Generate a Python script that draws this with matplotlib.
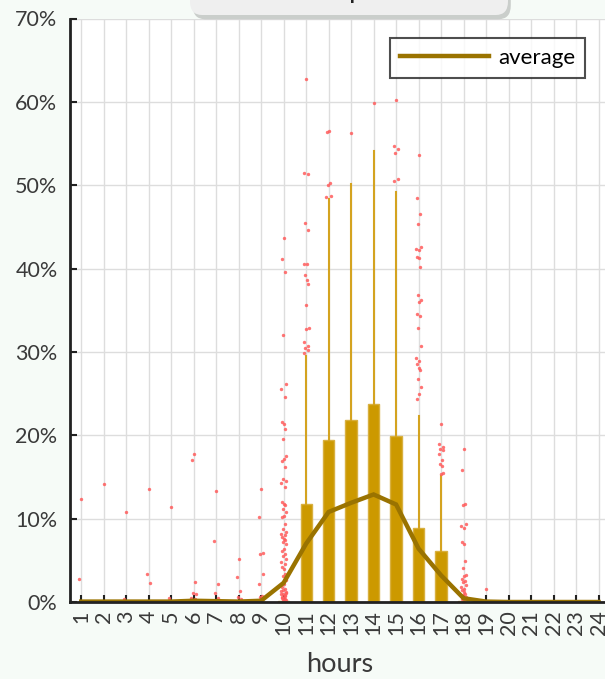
import matplotlib
matplotlib.use("Agg")
import matplotlib.pyplot as plt
import matplotlib.patheffects as pe
from matplotlib.patches import FancyBboxPatch

# hourly share of daily output (%)
HOURS = list(range(1, 25))
AVERAGE = [0.05, 0.05, 0.05, 0.05, 0.05, 0.15, 0.1, 0.05, 0.15, 2.3, 7.0, 10.8,
           11.9, 12.9, 11.7, 6.4, 3.2, 0.45, 0.05, 0, 0, 0, 0, 0]
Q1 = [0] * 24
MEDIAN = [0] * 24
Q3 = [0] * 9 + [0.1, 11.7, 19.4, 21.8, 23.8, 19.9, 8.9, 6.1, 0.1] + [0] * 6
WHISKER_HI = [0] * 9 + [0.25, 29.5, 48.3, 50.1, 54.1, 49.2, 22.3, 15.1, 0.2] + [0] * 6

OUTLIERS = {
    1: [12.3, 2.75],
    2: [14.1],
    3: [10.8, 0.4],
    4: [13.6, 3.35, 2.3],
    5: [11.4, 0.5],
    6: [17.8, 17.0, 2.4, 1.1, 1.0, 0.5, 0.4],
    7: [13.3, 7.3, 2.2, 1.1, 0.5],
    8: [5.1, 3.0, 1.35, 0.6, 0.4],
    9: [13.6, 10.2, 5.9, 5.7, 3.4, 2.1, 0.75, 0.6],
    10: [43.7, 41.1, 39.6, 32.0, 26.2, 25.5, 24.6, 21.6, 21.3, 20.8, 19.6, 17.5,
         17.2, 16.9, 16.2, 14.7, 14.5, 14.3, 13.8, 12.0, 11.8, 11.6, 11.2, 10.8,
         10.3, 10.2, 9.4, 8.8, 8.4, 8.2, 8.0, 7.8, 7.6, 7.4, 7.2, 6.9, 6.3, 6.1,
         5.8, 5.5, 5.2, 4.8, 4.6, 4.2, 4.0, 3.4, 3.1, 2.6, 2.2, 1.8, 1.6, 1.4,
         1.2, 1.0, 0.85, 0.65, 0.45, 0.3, 0.25, 0.2, 0.15, 0.5, 0.7, 0.9, 1.1, 1.3],
    11: [62.8, 51.5, 51.4, 45.5, 44.6, 40.6, 40.5, 39.2, 38.6, 38.2, 35.6, 32.9,
         32.8, 31.2, 30.7, 30.5, 30.2, 29.9],
    12: [56.5, 56.4, 50.3, 50.0, 48.7, 48.6],
    13: [56.3],
    14: [59.9],
    15: [60.2, 54.7, 54.4, 53.9, 50.8, 50.5],
    16: [53.6, 48.5, 46.5, 45.3, 42.6, 42.4, 42.2, 41.4, 41.3, 40.2, 36.8, 36.2,
         36.0, 34.5, 34.3, 32.9, 30.7, 29.3, 28.9, 28.6, 28.1, 27.8, 26.7, 25.8,
         25.0, 24.4],
    17: [21.3, 19.0, 18.6, 18.4, 18.2, 17.7, 17.0, 16.5, 16.3, 15.5, 15.3],
    18: [18.4, 15.8, 11.8, 11.6, 9.3, 9.1, 8.9, 7.15, 6.9, 4.95, 4.1, 3.2, 3.1,
         2.7, 2.55, 2.4, 2.0, 1.8, 1.6, 1.4, 1.2, 1.0, 0.8, 0.6, 0.45, 0.35, 0.3],
    19: [1.55],
}

BOX_COLOR = "#cc9900"
BOX_EDGE = "#d8b040"
AVG_COLOR = "#9a7300"
DOT_COLOR = "#ff5c5c"
TEXT = "#3a3a3a"
BG = "#f6fbf7"
JITTER = [0.0, -0.09, 0.07, -0.04, 0.10, -0.11, 0.04, -0.06, 0.02, 0.08, -0.02, 0.12]

plt.rcParams["font.family"] = ["Lato", "DejaVu Sans"]

fig = plt.figure(figsize=(6.05, 6.79), dpi=100, facecolor=BG)
ax = fig.add_axes([70 / 605, 77 / 679, 539.75 / 605, 583.5 / 679])
ax.set_facecolor("white")

stats = []
for i, h in enumerate(HOURS):
    stats.append({"med": MEDIAN[i], "q1": Q1[i], "q3": Q3[i],
                  "whislo": Q1[i], "whishi": WHISKER_HI[i], "fliers": []})
ax.bxp(stats, positions=HOURS, widths=0.5, patch_artist=True, showcaps=False,
       boxprops=dict(facecolor=BOX_COLOR, edgecolor=BOX_EDGE, linewidth=1),
       whiskerprops=dict(color="#d4a320", linewidth=1.5),
       medianprops=dict(color=BOX_COLOR, linewidth=0),
       manage_ticks=False, zorder=3)

for h, vals in OUTLIERS.items():
    xs = [h + JITTER[k % len(JITTER)] for k in range(len(vals))]
    ax.scatter(xs, vals, s=6, color=DOT_COLOR, alpha=0.85, linewidths=0, zorder=4)

ax.plot(HOURS, AVERAGE, color=AVG_COLOR, linewidth=3.2, label="average",
        solid_joinstyle="miter", zorder=5)

ax.set_xlim(0.5, 24.5)
ax.set_ylim(0, 70)
ax.set_xticks(HOURS)
ax.set_xticklabels([str(h) for h in HOURS], rotation=90, fontsize=15.5, color=TEXT)
ax.set_yticks(range(0, 71, 10))
ax.set_yticklabels([f"{v}%" for v in range(0, 71, 10)], fontsize=15.5, color=TEXT)
ax.tick_params(axis="both", direction="in", length=5, width=1.5, color="#222222")
ax.tick_params(axis="y", pad=9)
ax.tick_params(axis="x", pad=6)
ax.grid(True, color="#dddddd", linewidth=1, zorder=0)
ax.set_axisbelow(True)
for s in ("top", "right"):
    ax.spines[s].set_visible(False)
for s in ("left", "bottom"):
    ax.spines[s].set_color("#222222")
    ax.spines[s].set_linewidth(2)
    ax.spines[s].set_zorder(6)

ax.set_xlabel("hours", fontsize=19.5, color=TEXT, labelpad=12)

leg = ax.legend(loc="upper right", bbox_to_anchor=(0.954, 0.967), borderaxespad=0,
                fontsize=16, frameon=True, fancybox=False, handlelength=4.0,
                borderpad=0.45, handletextpad=0.4)
leg.get_frame().set_edgecolor("#222222")
leg.get_frame().set_linewidth(1.5)
leg.set_zorder(10)

# title box, cut off by the top edge
box = FancyBboxPatch((190 / 605, 1 - 15 / 679), 318 / 605, 0.2,
                     boxstyle="round,pad=0,rounding_size=0.02",
                     transform=fig.transFigure, facecolor="#efefef",
                     edgecolor="none", zorder=20)
box.set_path_effects([pe.SimplePatchShadow(offset=(2, -3), alpha=0.25), pe.Normal()])
fig.patches.append(box)
fig.text(357 / 605, 1 + 2 / 679, "p", ha="center", va="baseline", fontsize=20,
         color="#222222", zorder=21)

fig.savefig("out.png", dpi=100, facecolor=BG)
